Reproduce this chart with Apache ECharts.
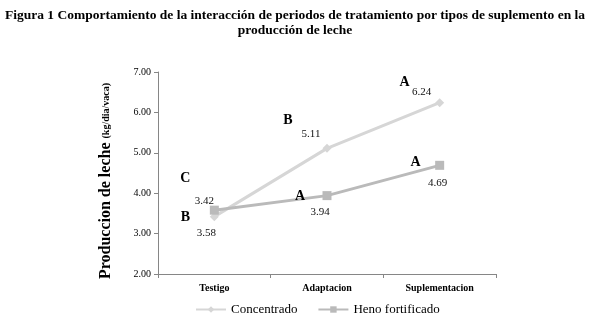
<!DOCTYPE html>
<html>
<head>
<meta charset="utf-8">
<script src="https://cdn.jsdelivr.net/npm/echarts@6/dist/echarts.min.js"></script>
<style>
  html, body { margin: 0; padding: 0; background: #fff; }
  #chart { width: 590px; height: 328px; }
</style>
</head>
<body>
<div id="chart"></div>
<script>
// datos
const periodos = ["Testigo", "Adaptacion", "Suplementacion"];
const concentrado = [3.42, 5.11, 6.24];
const henoFortificado = [3.58, 3.94, 4.69];
const letrasConcentrado = ["C", "B", "A"];
const letrasHeno = ["B", "A", "A"];

const serif = "'Liberation Serif', 'DejaVu Serif', serif";

// desplazamientos de etiquetas (solo estilo)
const offValConc = [[-10, -16], [-16, -14], [-18, -11]];
const offValHeno = [[-8, 23], [-7, 16], [-2, 18]];
const offLetConc = [[-29, -38], [-39, -28], [-35, -20]];
const offLetHeno = [[-29, 7], [-27, 1], [-24, -3]];

const chart = echarts.init(document.getElementById("chart"));

const valueData = (vals, offs) =>
  vals.map((v, i) => ({ value: v, label: { offset: offs[i] } }));

const letterSeries = (name, vals, offs, letras) => ({
  name: name,
  type: "line",
  data: valueData(vals, offs),
  symbol: "circle",
  showSymbol: true,
  symbolSize: 1,
  itemStyle: { color: "rgba(0,0,0,0)" },
  lineStyle: { width: 0, color: "rgba(0,0,0,0)" },
  label: {
    show: true,
    position: "inside",
    fontFamily: serif,
    fontSize: 14,
    fontWeight: "bold",
    color: "#000",
    formatter: (p) => letras[p.dataIndex],
  },
  silent: true,
  z: 5,
});

const option = {
  animation: false,
  title: {
    text: "Figura 1 Comportamiento de la interacción de periodos de tratamiento por tipos de suplemento en la\nproducción de leche",
    left: "center",
    top: 3,
    textStyle: {
      fontFamily: serif,
      fontSize: 13.5,
      fontWeight: "bold",
      color: "#000",
      lineHeight: 15,
    },
  },
  legend: {
    data: ["Concentrado", "Heno fortificado"],
    bottom: 7,
    left: 190,
    itemWidth: 30,
    itemHeight: 8,
    itemGap: 20,
    textStyle: { fontFamily: serif, fontSize: 13, color: "#000" },
  },
  grid: { left: 158, right: 94, top: 72, bottom: 54 },
  xAxis: {
    type: "category",
    data: periodos,
    axisLine: { lineStyle: { color: "#868686", width: 1 } },
    axisTick: { show: true, length: 4, lineStyle: { color: "#868686" } },
    axisLabel: {
      fontFamily: serif,
      fontSize: 10,
      fontWeight: "bold",
      color: "#000",
      margin: 9,
    },
  },
  yAxis: {
    type: "value",
    min: 2,
    max: 7,
    interval: 1,
    name: "{a|Produccion de leche }{b|(kg/dia/vaca)}",
    nameLocation: "middle",
    nameGap: 44,
    nameTextStyle: {
      padding: [0, 16, 0, 0],
      rich: {
        a: { fontFamily: serif, fontSize: 16, fontWeight: "bold", color: "#000" },
        b: { fontFamily: serif, fontSize: 10, fontWeight: "bold", color: "#000" },
      },
    },
    axisLine: { show: true, lineStyle: { color: "#868686", width: 1 } },
    axisTick: { show: true, length: 4, lineStyle: { color: "#868686" } },
    splitLine: { show: false },
    axisLabel: {
      fontFamily: serif,
      fontSize: 10,
      color: "#000",
      margin: 7,
      formatter: (v) => v.toFixed(2),
    },
  },
  series: [
    {
      name: "Concentrado",
      type: "line",
      data: valueData(concentrado, offValConc),
      symbol: "diamond",
      symbolSize: 9,
      color: "#d6d6d6",
      lineStyle: { width: 3, color: "#d6d6d6" },
      itemStyle: { color: "#d6d6d6" },
      label: {
        show: true,
        position: "inside",
        fontFamily: serif,
        fontSize: 11,
        color: "#111",
        formatter: (p) => p.value.toFixed(2),
      },
      z: 2,
    },
    {
      name: "Heno fortificado",
      type: "line",
      data: valueData(henoFortificado, offValHeno),
      symbol: "rect",
      symbolSize: 9,
      color: "#bababa",
      lineStyle: { width: 3, color: "#bababa" },
      itemStyle: { color: "#bababa" },
      label: {
        show: true,
        position: "inside",
        fontFamily: serif,
        fontSize: 11,
        color: "#111",
        formatter: (p) => p.value.toFixed(2),
      },
      z: 3,
    },
    letterSeries("letrasConc", concentrado, offLetConc, letrasConcentrado),
    letterSeries("letrasHeno", henoFortificado, offLetHeno, letrasHeno),
  ],
};

chart.setOption(option);
</script>
</body>
</html>
